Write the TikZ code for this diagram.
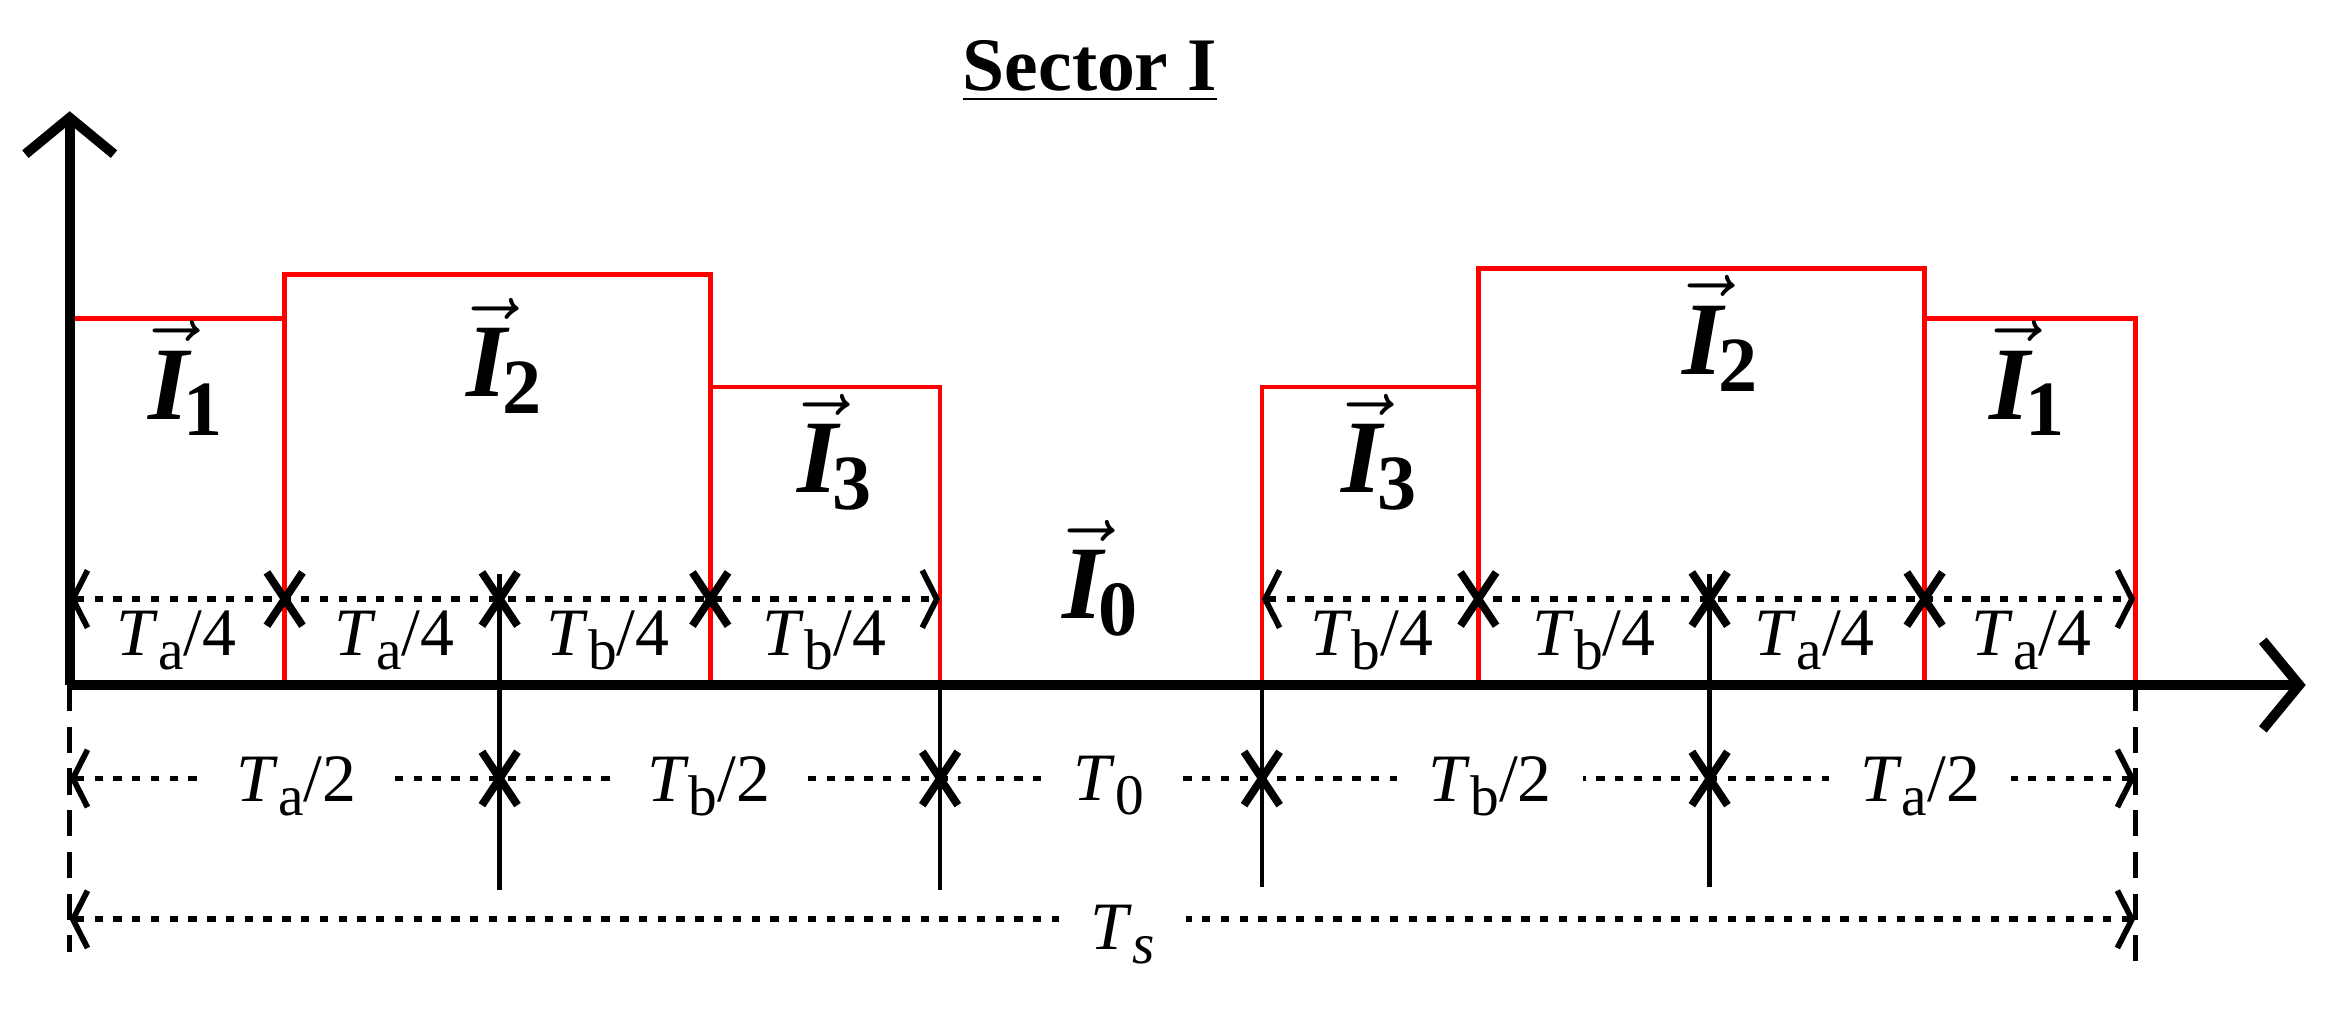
\documentclass[tikz,border=0pt]{standalone}
\usepackage{fontspec}
\setmainfont{Liberation Serif}
\usetikzlibrary{arrows.meta}
\newcommand{\vI}[1]{\(\vec{\hbox{\bfseries\itshape I}}\)\kern-1pt\raisebox{-0.35ex}{\bfseries\fontsize{15}{17}\selectfont #1}}
\newcommand{\Tl}[2]{\textit{T}\raisebox{-0.45ex}{\fontsize{11}{12}\selectfont #1}/#2}
\begin{document}
\begin{tikzpicture}[x=0.01cm,y=-0.01cm,
  axis/.style={line width=1.9pt,-{Straight Barb[length=7pt,width=17pt,line width=1.9pt]}},
  sig/.style={red,line width=0.9pt},
  vl/.style={line width=0.9pt},
  dim/.style={line width=1.1pt,dash pattern=on 1.6pt off 2pt,
    {Straight Barb[length=2.8pt,width=11pt,line width=1.1pt,sep=0pt]}-{Straight Barb[length=2.8pt,width=11pt,line width=1.1pt,sep=0pt]}},
  lab/.style={font=\fontsize{13}{15}\selectfont,inner sep=1pt},
  wl/.style={lab,fill=white,inner xsep=6pt},
  vec/.style={font=\fontsize{20}{24}\selectfont,inner sep=0pt},
  cross/.style={line width=1.5pt}]
\useasboundingbox (0,0) rectangle (1568,681);
\newcommand{\X}[2]{\draw[cross] (#1-12,#2-18) -- (#1+12,#2+18) (#1-12,#2+18) -- (#1+12,#2-18);}
% title
\node[font=\bfseries\fontsize{14.5}{16}\selectfont] (title) at (735,48) {\underline{Sector I}};
% red signal
\draw[sig] (47,215) -- (192,215) -- (192,185) -- (479,185) -- (479,261) -- (634,261) -- (634,462);
\draw[sig] (192,185) -- (192,462) (479,261) -- (479,462);
\draw[sig] (851,462) -- (851,261) -- (997,261) -- (997,181) -- (1298,181) -- (1298,215) -- (1440,215) -- (1440,462);
\draw[sig] (997,261) -- (997,462) (1298,215) -- (1298,462);
% black verticals
\draw[vl] (337,387) -- (337,600);
\draw[vl] (634,462) -- (634,600);
\draw[vl] (851,462) -- (851,598);
\draw[vl] (1153,387) -- (1153,598);
% dashed verticals
\draw[line width=1pt,dash pattern=on 5pt off 3pt] (47,462) -- (47,642);
\draw[line width=1pt,dash pattern=on 5pt off 3pt] (1440,462) -- (1440,655);
% axes
\coordinate (O) at (47,462);
\draw[axis] (O) -- (47,75);
\draw[axis] (O) -- (1555,462);
% row 1
\draw[dim] (47,404) -- (634,404);
\draw[dim] (851,404) -- (1440,404);
\X{192}{404}\X{337}{404}\X{479}{404}
\X{997}{404}\X{1153}{404}\X{1298}{404}
\node[lab] at (119,432) {\Tl{a}{4}};
\node[lab] at (266,432) {\Tl{a}{4}};
\node[lab] at (410,432) {\Tl{b}{4}};
\node[lab] at (556,432) {\Tl{b}{4}};
\node[lab] at (925,432) {\Tl{b}{4}};
\node[lab] at (1075,432) {\Tl{b}{4}};
\node[lab] at (1224,432) {\Tl{a}{4}};
\node[lab] at (1370,432) {\Tl{a}{4}};
% row 2
\draw[dim] (47,525) -- (1440,525);
\X{337}{525}\X{634}{525}\X{851}{525}\X{1153}{525}
\node[wl] at (200,530) {\Tl{a}{2}};
\node[wl] at (478,530) {\Tl{b}{2}};
\node[wl] at (748,530) {\textit{T}\raisebox{-0.45ex}{\fontsize{11}{12}\selectfont 0}};
\node[wl] at (1005,530) {\Tl{b}{2}};
\node[wl] at (1295,530) {\Tl{a}{2}};
% row 3
\draw[dim] (47,620) -- (1440,620);
\node[wl] at (757,630) {\textit{T}\raisebox{-0.45ex}{\fontsize{11}{12}\selectfont\itshape s}};
% vectors
\node[vec] at (125,255) {\vI{1}};
\node[vec] at (340,240) {\vI{2}};
\node[vec] at (563,305) {\vI{3}};
\node[vec] at (742,390) {\vI{0}};
\node[vec] at (930,305) {\vI{3}};
\node[vec] at (1160,225) {\vI{2}};
\node[vec] at (1367,255) {\vI{1}};
\end{tikzpicture}
\end{document}
